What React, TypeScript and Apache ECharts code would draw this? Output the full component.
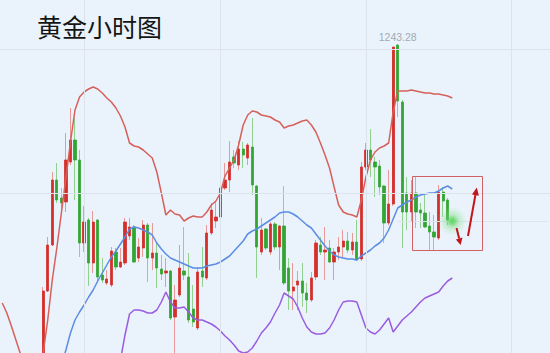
import React, { useEffect, useRef } from "react";
import * as echarts from "echarts";

// ---- data (hourly gold candles, index 9..98) ----
const FIRST_INDEX = 9;
const OPEN = [
  1211.7, 1218.6, 1223.2, 1229.7, 1227.9, 1227.5, 1231.5, 1233.7, 1231.7, 1223.4,
  1225.7, 1221.4, 1225.7, 1220.2, 1219.4, 1219.2, 1222.5, 1221.0, 1221.4, 1224.1,
  1225.0, 1221.9, 1222.9, 1225.2, 1221.9, 1222.4, 1220.8, 1220.4, 1220.6, 1216.0,
  1218.2, 1220.6, 1220.0, 1216.8, 1214.9, 1220.6, 1219.9, 1224.4, 1225.6, 1226.0,
  1228.9, 1229.7, 1232.0, 1231.2, 1232.8, 1231.9, 1233.0, 1229.1, 1222.5, 1224.8,
  1222.5, 1225.3, 1223.0, 1225.1, 1220.9, 1218.6, 1219.2, 1219.6, 1218.4, 1217.7,
  1220.0, 1223.2, 1222.5, 1222.9, 1221.5, 1222.5, 1223.0, 1223.6, 1222.7, 1223.5,
  1221.8, 1231.0, 1232.7, 1231.5, 1231.1, 1229.1, 1225.4, 1227.3, 1243.2, 1237.5,
  1228.4, 1226.5, 1228.4, 1226.7, 1226.4, 1225.1, 1224.5, 1223.9, 1228.5, 1227.7,
];
const CLOSE = [
  1218.6, 1223.2, 1229.7, 1227.7, 1227.4, 1231.7, 1233.7, 1231.7, 1223.4, 1225.5,
  1221.4, 1225.5, 1220.0, 1219.7, 1219.8, 1222.6, 1221.0, 1221.5, 1225.5, 1225.0,
  1221.5, 1223.0, 1225.2, 1221.9, 1222.4, 1220.9, 1220.3, 1220.6, 1215.9, 1217.7,
  1220.9, 1220.2, 1215.7, 1215.5, 1220.5, 1220.0, 1224.4, 1226.7, 1226.0, 1228.9,
  1229.7, 1231.5, 1231.4, 1232.8, 1232.2, 1233.2, 1229.2, 1223.0, 1224.7, 1222.9,
  1225.3, 1223.0, 1225.1, 1219.4, 1218.6, 1219.0, 1219.6, 1218.4, 1217.7, 1219.9,
  1223.4, 1222.5, 1222.7, 1221.5, 1222.5, 1223.0, 1223.6, 1222.7, 1223.5, 1221.7,
  1231.0, 1232.7, 1231.7, 1231.0, 1229.0, 1225.4, 1227.3, 1243.0, 1237.6, 1226.5,
  1226.5, 1228.4, 1226.5, 1226.4, 1225.0, 1224.5, 1224.0, 1228.5, 1227.6, 1225.7,
];
const LOW = [
  1210.7, 1218.5, 1223.1, 1227.4, 1226.2, 1226.5, 1231.2, 1227.7, 1222.0, 1222.5,
  1219.1, 1220.4, 1219.5, 1219.4, 1219.2, 1219.0, 1220.7, 1220.9, 1221.2, 1223.7,
  1221.4, 1221.5, 1222.0, 1219.5, 1220.7, 1218.9, 1219.7, 1219.0, 1215.7, 1211.7,
  1218.0, 1219.7, 1215.4, 1215.0, 1214.7, 1219.0, 1219.7, 1224.2, 1224.9, 1225.0,
  1228.7, 1228.5, 1230.9, 1230.7, 1230.9, 1231.2, 1228.2, 1219.9, 1222.2, 1222.7,
  1222.2, 1222.7, 1220.7, 1219.2, 1216.7, 1216.7, 1216.7, 1217.0, 1216.4, 1217.5,
  1219.7, 1222.2, 1219.7, 1221.4, 1219.7, 1221.7, 1222.0, 1222.4, 1222.2, 1221.6,
  1221.6, 1230.7, 1230.0, 1228.0, 1228.2, 1223.4, 1225.2, 1227.1, 1236.0, 1222.9,
  1224.7, 1225.5, 1224.9, 1224.9, 1224.9, 1222.7, 1222.7, 1223.7, 1226.0, 1225.2,
];
const HIGH = [
  1219.0, 1224.0, 1230.5, 1231.4, 1228.9, 1234.4, 1236.9, 1235.9, 1232.7, 1227.1,
  1225.9, 1226.6, 1225.8, 1221.9, 1220.7, 1223.0, 1222.9, 1222.9, 1225.9, 1225.9,
  1225.2, 1223.9, 1225.7, 1225.4, 1225.4, 1223.5, 1222.2, 1221.9, 1220.7, 1219.2,
  1223.2, 1225.0, 1222.4, 1219.2, 1221.0, 1223.0, 1225.2, 1227.4, 1227.5, 1229.9,
  1231.4, 1233.6, 1232.7, 1233.6, 1233.5, 1233.4, 1235.9, 1229.2, 1225.9, 1224.9,
  1225.5, 1225.5, 1225.2, 1229.1, 1221.9, 1221.4, 1220.6, 1221.4, 1219.4, 1220.5,
  1223.7, 1224.0, 1225.0, 1223.7, 1222.9, 1224.0, 1224.7, 1224.5, 1224.4, 1225.7,
  1231.5, 1233.4, 1234.8, 1232.0, 1231.7, 1229.2, 1230.7, 1243.0, 1243.28, 1237.7,
  1230.0, 1229.7, 1230.0, 1227.4, 1228.2, 1226.5, 1226.2, 1229.2, 1229.0, 1227.9,
];

// ---- Bollinger bands (index 0..99) ----
const UPPER = [
  1217.4, 1216.4, 1215.1, 1213.7, 1212.3, 1211.2, 1210.6, 1210.8, 1211.5, 1212.4,
  1215.7, 1219.7, 1222.9, 1226.4, 1229.9, 1233.5, 1236.7, 1238.0, 1238.5, 1238.8,
  1239.0, 1238.8, 1238.4, 1237.9, 1237.5, 1236.9, 1236.1, 1235.0, 1233.4, 1233.1,
  1233.0, 1232.7, 1232.3, 1231.9, 1230.5, 1228.4, 1226.2, 1226.7, 1226.3, 1226.2,
  1225.6, 1225.9, 1226.1, 1226.0, 1226.0, 1226.5, 1227.2, 1227.6, 1228.4, 1230.1,
  1230.9, 1231.7, 1233.2, 1235.2, 1236.2, 1236.6, 1236.5, 1236.2, 1236.1, 1236.0,
  1235.7, 1235.5, 1234.9, 1235.1, 1235.2, 1235.4, 1235.6, 1235.7, 1235.2, 1234.5,
  1233.4, 1232.2, 1230.9, 1229.0, 1227.2, 1226.5, 1226.3, 1226.2, 1226.0, 1227.7,
  1230.0, 1231.7, 1232.5, 1232.9, 1233.1, 1233.4, 1236.5, 1238.6, 1238.6, 1238.6,
  1238.7, 1238.6, 1238.5, 1238.4, 1238.4, 1238.3, 1238.3, 1238.2, 1238.1, 1237.9,
];
const MIDDLE_FIRST = 12;
const MIDDLE = [
  1209.8, 1211.2, 1212.7, 1214.4, 1215.7, 1216.5, 1217.2, 1218.0,
  1218.7, 1219.6, 1220.4, 1221.2, 1222.0, 1222.6, 1223.3, 1224.0, 1224.8, 1225.0,
  1224.9, 1224.7, 1224.5, 1224.2, 1223.4, 1222.8, 1222.3, 1221.9, 1221.7, 1221.5,
  1221.3, 1221.1, 1220.9, 1220.9, 1220.9, 1221.1, 1221.2, 1221.3, 1221.5, 1221.8,
  1222.1, 1222.6, 1223.1, 1223.6, 1224.3, 1224.6, 1224.8, 1225.1, 1225.4, 1225.7,
  1226.0, 1226.4, 1226.5, 1226.5, 1226.3, 1226.0, 1225.6, 1225.2, 1224.9, 1224.3,
  1223.7, 1223.1, 1222.6, 1222.2, 1222.0, 1221.9, 1221.8, 1221.8, 1221.7, 1222.1,
  1222.4, 1222.7, 1223.1, 1223.4, 1223.9, 1224.7, 1225.8, 1226.9, 1227.2, 1227.5,
  1227.7, 1228.0, 1228.2, 1228.3, 1228.4, 1228.4, 1228.6, 1228.9, 1229.1, 1228.8,
];
const LOWER_FIRST = 25;
const LOWER = [
  1210.2, 1211.7, 1214.2, 1216.3, 1216.7,
  1216.7, 1216.6, 1216.4, 1216.4, 1216.7, 1217.5, 1218.5, 1217.5, 1216.9, 1216.9,
  1217.0, 1216.5, 1215.9, 1215.7, 1215.7, 1215.5, 1215.3, 1215.0, 1214.6, 1214.1,
  1213.7, 1213.2, 1212.6, 1212.4, 1212.5, 1212.9, 1213.6, 1214.4, 1214.9, 1215.5,
  1216.4, 1217.2, 1218.4, 1218.1, 1217.8, 1217.0, 1215.9, 1215.0, 1214.5, 1214.3,
  1214.3, 1214.4, 1214.9, 1215.7, 1216.7, 1217.5, 1217.6, 1217.6, 1217.5, 1216.2,
  1214.9, 1214.5, 1214.3, 1214.7, 1215.3, 1215.9, 1214.5, 1215.1, 1215.7, 1216.1,
  1216.5, 1217.0, 1217.5, 1217.9, 1218.1, 1218.3, 1218.5, 1219.1, 1219.6, 1219.9,
];

const CATEGORY_COUNT = 121;
const PEAK_INDEX = 87;
const PEAK_PRICE = 1243.28;
const LAST_INDEX = 99;
const LAST_PRICE = 1225.6;
const V_GRID = [18, 48, 80, 112];
const H_GRID = [1242.8, 1228.4];
const Y_MIN = 1212.4;
const Y_MAX = 1247.7;
const TITLE = "黄金小时图";

const RED = "#d3302c";
const GREEN = "#33a532";
const WICK_RED = "#e79a97";
const WICK_GREEN = "#92d08f";

export default function App() {
  const ref = useRef<HTMLDivElement>(null);
  useEffect(() => {
    if (!ref.current) return;
    const chart = echarts.init(ref.current, undefined, { renderer: "svg" });
    const cats = Array.from({ length: CATEGORY_COUNT }, (_, i) => `T${i}`);
    const full = cats.map((_, i) => {
      const k = i - FIRST_INDEX;
      if (k < 0 || k >= OPEN.length) return ["-", "-", "-", "-"];
      return [OPEN[k], CLOSE[k], LOW[k], HIGH[k]];
    });
    const bodies = cats.map((_, i) => {
      const k = i - FIRST_INDEX;
      if (k < 0 || k >= OPEN.length) return ["-", "-", "-", "-"];
      return [OPEN[k], CLOSE[k], Math.min(OPEN[k], CLOSE[k]), Math.max(OPEN[k], CLOSE[k])];
    });
    const pad = (arr: number[], first: number) =>
      cats.map((_, i) => (i - first >= 0 && i - first < arr.length ? arr[i - first] : "-"));

    const gridLine = { color: "#dce3eb", width: 1, type: "solid" as const };

    chart.setOption({
      animation: false,
      backgroundColor: "#eaf3fc",
      title: {
        text: TITLE,
        left: 32,
        top: 8,
        textStyle: { fontSize: 25, fontWeight: "normal", color: "#151515", fontFamily: "Noto Sans CJK SC" },
      },
      grid: { left: 0, top: 0, bottom: 0, width: 552, containLabel: false },
      xAxis: {
        type: "category",
        data: cats,
        boundaryGap: true,
        show: false,
      },
      yAxis: {
        type: "value",
        min: Y_MIN,
        max: Y_MAX,
        show: false,
        splitLine: { show: false },
      },
      series: [
        {
          type: "line",
          data: cats.map(() => "-"),
          z: 1,
          silent: true,
          markLine: {
            silent: true,
            symbol: ["none", "none"],
            label: { show: false },
            lineStyle: gridLine,
            data: [
              ...V_GRID.map((x) => ({ xAxis: x })),
              ...H_GRID.map((y) => ({ yAxis: y })),
              [
                { coord: [PEAK_INDEX, LAST_PRICE] },
                { coord: [CATEGORY_COUNT - 1, LAST_PRICE] },
              ],
            ],
          },
        },
        {
          type: "candlestick",
          data: full,
          barWidth: 1,
          z: 2,
          itemStyle: {
            color: WICK_RED,
            color0: WICK_GREEN,
            borderColor: WICK_RED,
            borderColor0: WICK_GREEN,
            borderWidth: 1,
          },
        },
        {
          type: "candlestick",
          data: bodies,
          barWidth: 2.8,
          z: 3,
          itemStyle: {
            color: RED,
            color0: GREEN,
            borderColor: RED,
            borderColor0: GREEN,
            borderWidth: 0.8,
          },
          markPoint: {
            symbol: "circle",
            symbolSize: 0,
            data: [{ coord: [PEAK_INDEX, PEAK_PRICE], value: PEAK_PRICE }],
            label: {
              show: true,
              position: "top",
              distance: 2,
              formatter: "{c}",
              color: "#a2aab3",
              fontSize: 10.5,
              fontFamily: "Liberation Sans",
            },
          },
        },
        {
          type: "line",
          data: pad(UPPER, 0),
          symbol: "none",
          z: 4,
          lineStyle: { color: "#d6615b", width: 1.5 },
        },
        {
          type: "line",
          data: pad(MIDDLE, MIDDLE_FIRST),
          symbol: "none",
          z: 4,
          lineStyle: { color: "#5a8de3", width: 1.5 },
        },
        {
          type: "line",
          data: pad(LOWER, LOWER_FIRST),
          symbol: "none",
          z: 4,
          lineStyle: { color: "#9a5ce0", width: 1.5 },
        },
        {
          type: "scatter",
          data: [[LAST_INDEX, LAST_PRICE]],
          symbolSize: 30,
          z: 5,
          itemStyle: {
            color: new echarts.graphic.RadialGradient(0.5, 0.5, 0.5, [
              { offset: 0, color: "rgba(60,205,60,1)" },
              { offset: 0.18, color: "rgba(80,210,80,0.9)" },
              { offset: 0.45, color: "rgba(120,220,120,0.45)" },
              { offset: 1, color: "rgba(160,230,160,0)" },
            ]),
          },
        },
      ],
      graphic: [
        {
          type: "rect",
          shape: { x: 412.5, y: 176.5, width: 70, height: 74 },
          style: { fill: "none", stroke: "#d26065", lineWidth: 1 },
          z: 10,
        },
        {
          type: "line",
          shape: { x1: 456.5, y1: 228, x2: 459.2, y2: 238.5 },
          style: { stroke: "#c3151b", lineWidth: 2 },
          z: 10,
        },
        {
          type: "polygon",
          shape: { points: [[462.5, 237.6], [455.9, 239.5], [460.6, 245]] },
          style: { fill: "#c3151b" },
          z: 10,
        },
        {
          type: "line",
          shape: { x1: 468, y1: 236, x2: 475.4, y2: 195 },
          style: { stroke: "#c3151b", lineWidth: 2 },
          z: 10,
        },
        {
          type: "polygon",
          shape: { points: [[478.9, 195.8], [472.0, 194.4], [476.8, 187.5]] },
          style: { fill: "#c3151b" },
          z: 10,
        },
      ],
    });
    return () => chart.dispose();
  }, []);
  return (
    <div
      ref={ref}
      style={{ position: "fixed", left: 0, top: 0, width: 550, height: 353 }}
    />
  );
}
